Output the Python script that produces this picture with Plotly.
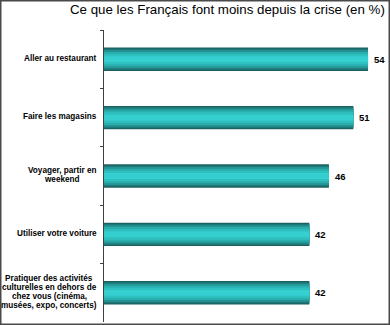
import plotly.graph_objects as go

categories = [
    "Aller au restaurant",
    "Faire les magasins",
    "Voyager, partir en<br>weekend",
    "Utiliser votre voiture",
    "Pratiquer des activités<br>culturelles en dehors de<br>chez vous (cinéma,<br>musées, expo, concerts)",
]
values = [54, 51, 46, 42, 42]
title_text = "Ce que les Français font moins depuis la crise (en %)"

W, H = 390, 325
ML, MR, MT, MB = 104, 10, 30, 3
plot_w = W - ML - MR
plot_h = H - MT - MB
LABEL_FONT = "Liberation Sans, Arial"
LABEL_SIZE = 8.2

# Advance widths of Arial/Liberation Sans Bold (per 1000 em) for layout of label blocks
_BOLD_W = {" ": 278, "(": 333, ")": 333, ",": 278, "-": 333, ".": 278}
_BOLD_W.update({d: 556 for d in "0123456789"})
_BOLD_W.update(dict(zip("ABCDEFGHIJKLMNOPQRSTUVWXYZ",
    [722, 722, 722, 722, 667, 611, 778, 722, 278, 556, 722, 611, 833,
     722, 778, 667, 778, 722, 667, 611, 722, 667, 944, 667, 667, 611])))
_BOLD_W.update(dict(zip("abcdefghijklmnopqrstuvwxyz",
    [556, 611, 556, 611, 556, 333, 611, 611, 278, 278, 556, 278, 889,
     611, 611, 611, 611, 389, 556, 333, 611, 556, 778, 556, 556, 500])))
_BOLD_W.update({"é": 556, "è": 556, "à": 556, "ç": 556})


def text_width(s, size):
    return sum(_BOLD_W.get(ch, 556) for ch in s) * size / 1000.0


# Cylinder-like shading: stacked overlay bars, darkest and widest first
layers = [
    (0.40, "#1b5f5f"),
    (0.36, "#1f7878"),
    (0.31, "#249494"),
    (0.25, "#29adad"),
    (0.18, "#2fc0c0"),
    (0.10, "#36cfcf"),
]

fig = go.Figure()
for w, c in layers:
    fig.add_trace(go.Bar(
        x=values,
        y=categories,
        orientation="h",
        width=w,
        marker=dict(color=c, line=dict(width=0)),
        hoverinfo="skip",
        showlegend=False,
    ))

annotations = []
# Category labels: block right-aligned next to the axis, lines centred in the block
line_gap = 9
label_pad = 7
for cat in categories:
    lines = cat.split("<br>")
    n = len(lines)
    block_w = max(text_width(ln, LABEL_SIZE) for ln in lines)
    for i, ln in enumerate(lines):
        annotations.append(dict(
            x=0, xref="paper", xanchor="center", xshift=-(label_pad + block_w / 2),
            y=cat, yref="y", yanchor="middle",
            yshift=((n - 1) / 2 - i) * line_gap + 1,
            text="<b>" + ln + "</b>", showarrow=False,
            font=dict(family=LABEL_FONT, size=LABEL_SIZE, color="#000000"),
        ))

# Value labels at the end of each bar
for cat, v in zip(categories, values):
    annotations.append(dict(
        x=v, xref="x", xanchor="left", xshift=4,
        y=cat, yref="y", yanchor="middle",
        text="<b>" + str(v) + "</b>", showarrow=False,
        font=dict(family=LABEL_FONT, size=9.5, color="#000000"),
    ))

annotations.append(dict(
    x=(W - 3 - ML) / plot_w, xref="paper", xanchor="right",
    y=(plot_h + MT - 10) / plot_h, yref="paper", yanchor="middle",
    text=title_text, showarrow=False,
    font=dict(family=LABEL_FONT, size=13.3, color="#000000"),
))

fig.update_layout(
    width=W, height=H,
    margin=dict(l=ML, r=MR, t=MT, b=MB),
    paper_bgcolor="#ffffff", plot_bgcolor="#ffffff",
    barmode="overlay",
    xaxis=dict(range=[0, 56.45], visible=False, fixedrange=True),
    yaxis=dict(
        type="category", categoryorder="array", categoryarray=categories,
        autorange="reversed", showticklabels=False,
        showline=True, linecolor="#404040", linewidth=1,
        ticks="outside", ticklen=3, tickcolor="#404040", tickson="boundaries",
        showgrid=False, zeroline=False, fixedrange=True,
    ),
    annotations=annotations,
    shapes=[dict(
        type="rect", xref="paper", yref="paper",
        x0=(0.5 - ML) / plot_w, x1=(W - 0.5 - ML) / plot_w,
        y0=-(MB - 0.5) / plot_h, y1=(plot_h + MT - 0.5) / plot_h,
        line=dict(color="#4a4a4a", width=2), fillcolor="rgba(0,0,0,0)",
    )],
)

fig.write_html("out.html")
